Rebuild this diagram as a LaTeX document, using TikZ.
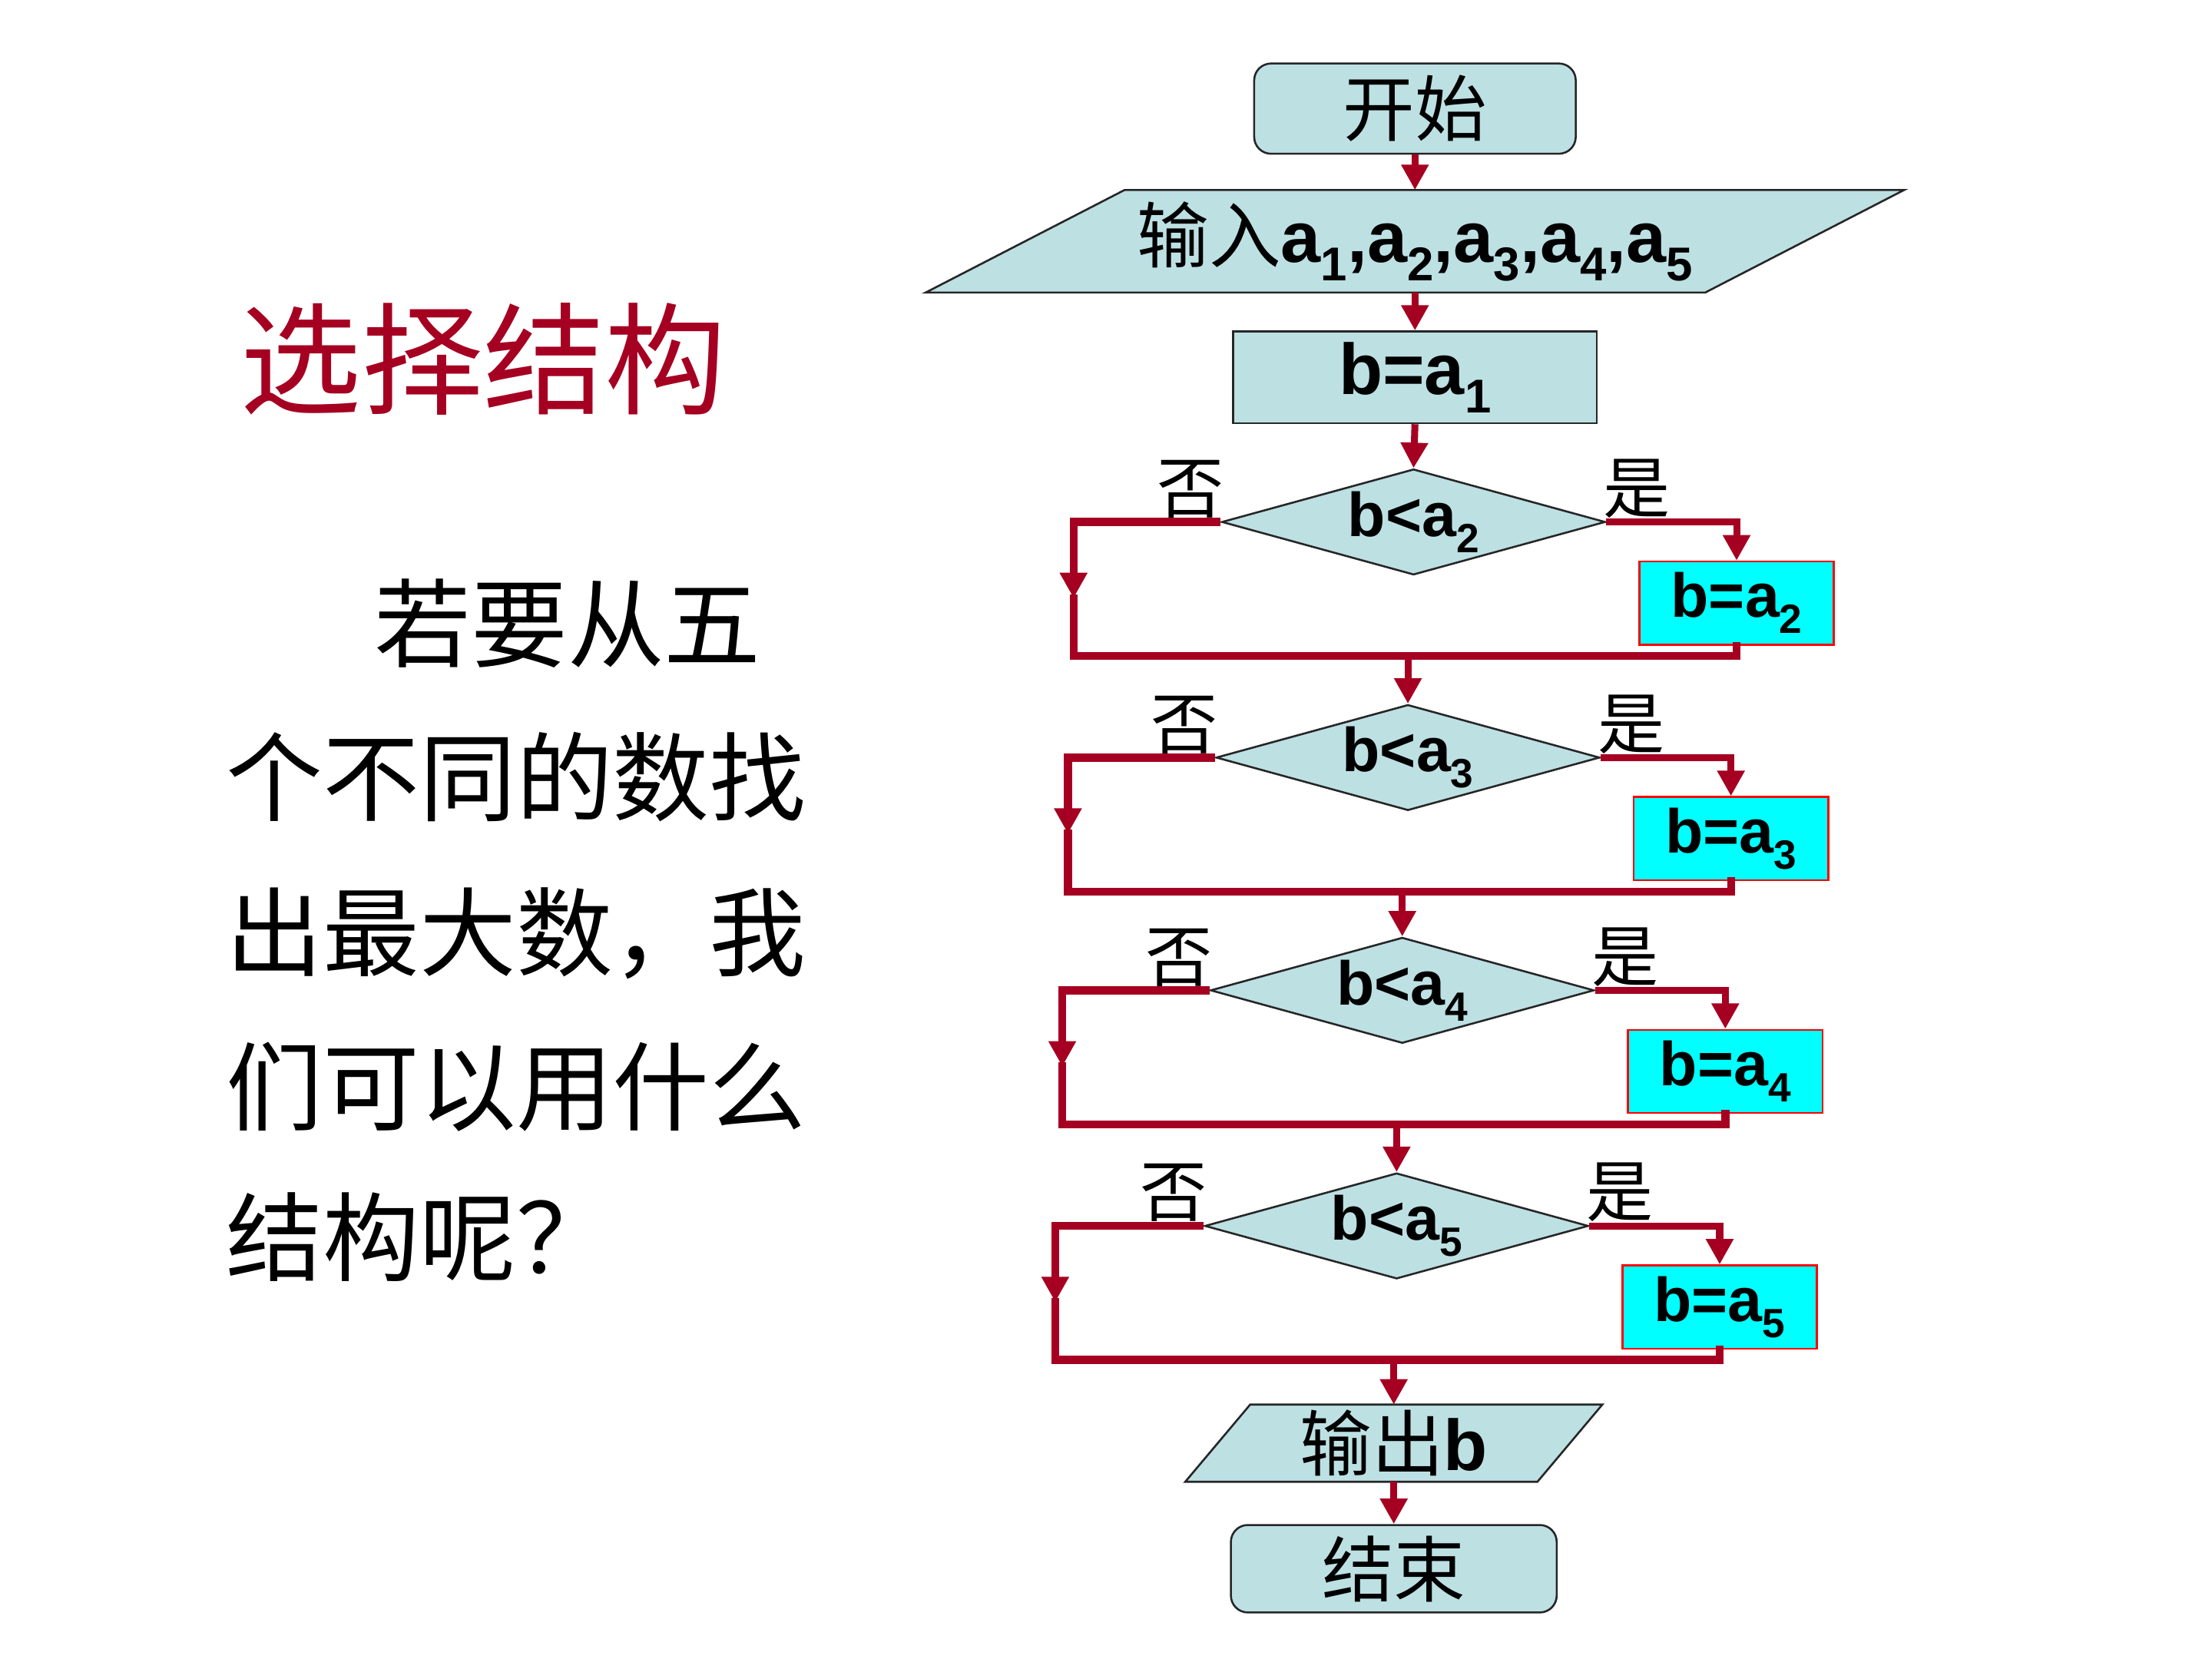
\documentclass[tikz,border=0pt]{standalone}
\usepackage{fontspec}
\setmainfont{Liberation Sans}
\newfontfamily\cjk{Noto Sans CJK SC}
\newcommand{\zh}[1]{{\cjk\mdseries #1}}
\newcommand{\low}[1]{\raisebox{-0.26em}{\scalebox{0.66}{#1}}}
\usetikzlibrary{shapes.geometric,arrows.meta,backgrounds}

\definecolor{flowfill}{RGB}{189,224,227}
\definecolor{setfill}{RGB}{0,255,255}
\definecolor{linkred}{RGB}{165,0,33}

\begin{document}
\begin{tikzpicture}[
    x=0.02cm, y=-0.02cm,
    base/.style={draw=black!85, line width=0.8pt, fill=flowfill, inner sep=0pt, font=\fontsize{29}{29}\selectfont\bfseries},
    term/.style={base, rectangle, rounded corners=0.24cm, font=\fontsize{29}{29}\selectfont\cjk},
    proc/.style={base, rectangle},
    io/.style={draw=black!85, line width=0.8pt, fill=flowfill},
    iotext/.style={rectangle, inner sep=0pt, font=\fontsize{29}{29}\selectfont\bfseries},
    test/.style={base, diamond, shape aspect=3.6, minimum width=5.44cm, minimum height=1.5cm, font=\fontsize{25}{25}\selectfont\bfseries},
    assign/.style={rectangle, draw=red, line width=0.8pt, fill=setfill, inner sep=0pt, minimum width=2.76cm, minimum height=1.18cm, font=\fontsize{25}{25}\selectfont\bfseries},
    tag/.style={inner sep=0.05cm, font=\fontsize{27}{27}\selectfont\cjk},
    flow/.style={-{Triangle[length=0.36cm,width=0.37cm]}, line width=2.8pt, draw=linkred},
    link/.style={line width=3.2pt, draw=linkred, line cap=rect},
    title/.style={inner sep=0pt, text=linkred, font=\fontsize{49}{49}\selectfont\cjk},
    body/.style={inner sep=0pt, font=\fontsize{39}{39}\selectfont\cjk}
]
\useasboundingbox (0,0) rectangle (1568,1176);

% Left text
\node[title, anchor=base west] (title) at (170,287) {选择结构};
\node[body, anchor=base west] (q1) at (265,468) {若要从五};
\node[body, anchor=base west] (q2) at (160,577) {个不同的数找};
\node[body, anchor=base west] (q3) at (160,687) {出最大数，我};
\node[body, anchor=base west] (q4) at (160,796) {们可以用什么};
\node[body, anchor=base west] (q5) at (160,903) {结构呢？};

% Start, input, first assignment
\node[term, minimum width=4.56cm, minimum height=1.28cm] (start) at (1003,77) {开始};
\node[iotext, minimum width=11.04cm, minimum height=1.44cm] (inp) at (1003,171)
    {\zh{输入}a\low{1},a\low{2},a\low{3},a\low{4},a\low{5}};
\node[proc, minimum width=5.16cm, minimum height=1.3cm] (b1) at (1003,267.5) {b=a\low{1}};

\draw[flow] (start.south) -- (inp.north);
\draw[flow] (inp.south) -- (b1.north);

% Comparisons
\foreach \i/\cx/\cy/\lx in {2/1002/370/761, 3/998/537/757, 4/994/702/753, 5/990/869/748} {
    \node[test] (d\i) at (\cx,\cy) {b<a\low{\i}};
    \node[assign] (s\i) at (\cx+229,\cy+57.5) {b=a\low{\i}};
    \node[tag, anchor=south east] (no\i) at ([xshift=0.1cm]d\i.west) {否};
    \node[tag, anchor=south west] (yes\i) at ([xshift=-0.1cm]d\i.east) {是};
    \coordinate (m\i) at (\lx,\cy+54);
    \coordinate (j\i) at (\lx,\cy+95);
    \draw[flow] (d\i.east) -| (s\i.north);
    \draw[flow, line width=3.2pt] (d\i.west) -| (m\i);
    \draw[link] (m\i) -- (j\i);
    \draw[link] (s\i.south) |- (j\i);
}
\draw[flow] (b1.south) -- (d2.north);
\foreach \i/\prev in {3/2, 4/3, 5/4}
    \draw[flow] (d\i.north |- j\prev) -- (d\i.north);

% Output and end
\node[iotext, minimum width=4.98cm, minimum height=1.08cm] (out) at (988,1023) {\zh{输出}b};
\node[term, minimum width=4.62cm, minimum height=1.24cm] (stop) at (988,1112) {结束};

\draw[flow] (out.north |- j5) -- (out.north);
\draw[flow] (out.south) -- (stop.north);

% Parallelogram outlines behind the io texts
\begin{scope}[on background layer]
\fill[white] (0,0) rectangle (1568,1176);
\draw[io] ([xshift=1.41cm]inp.north west) -- ([xshift=1.41cm]inp.north east)
    -- ([xshift=-1.41cm]inp.south east) -- ([xshift=-1.41cm]inp.south west) -- cycle;
\draw[io] ([xshift=0.46cm]out.north west) -- ([xshift=0.46cm]out.north east)
    -- ([xshift=-0.46cm]out.south east) -- ([xshift=-0.46cm]out.south west) -- cycle;
\end{scope}

\end{tikzpicture}
\end{document}
